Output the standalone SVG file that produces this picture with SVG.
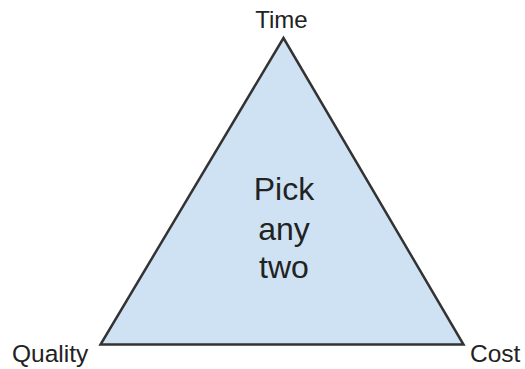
<svg xmlns="http://www.w3.org/2000/svg" width="525" height="369" viewBox="0 0 525 369">
<style>
.lbl{font-family:"Liberation Sans",Arial,sans-serif;fill:#222;}
</style>
<rect width="525" height="369" fill="#ffffff"/>
<g id="triangle">
<polygon points="283.5,38 100.5,344.5 463.5,344.5" fill="#cfe2f3" stroke="#333333" stroke-width="2.5" stroke-linejoin="miter"/>
<text class="lbl" x="284" y="200" font-size="32" text-anchor="middle">Pick</text>
<text class="lbl" x="284" y="240" font-size="32" text-anchor="middle">any</text>
<text class="lbl" x="284" y="278" font-size="32" text-anchor="middle">two</text>
</g>
<g id="time"><text class="lbl" x="281.5" y="28" font-size="24" text-anchor="middle">Time</text></g>
<g id="quality"><text class="lbl" x="12" y="362" font-size="24.5">Quality</text></g>
<g id="cost"><text class="lbl" x="470" y="362" font-size="24.5">Cost</text></g>
<g id="connectors"></g>
</svg>
